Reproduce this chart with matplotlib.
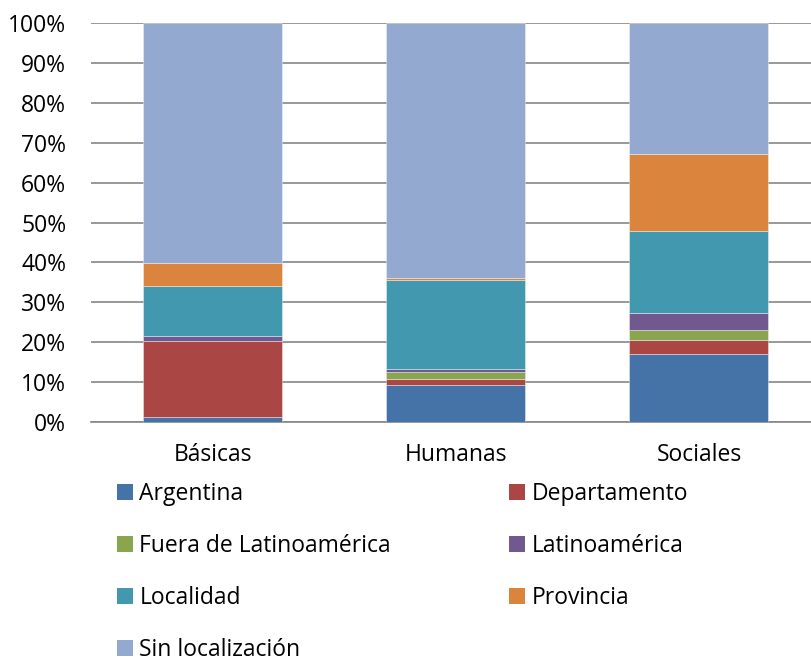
"""Stacked 100% bar chart of localization by area."""

import numpy as np
import matplotlib
matplotlib.use("Agg")
import matplotlib.pyplot as plt
from matplotlib.patches import Patch


CATEGORIES = ["Básicas", "Humanas", "Sociales"]

SERIES = ["Argentina", "Departamento", "Fuera de Latinoamérica", "Latinoamérica",
          "Localidad", "Provincia", "Sin localización"]

ARGENTINA = [1.3, 9.1, 16.9]
DEPARTAMENTO = [19.0, 1.6, 3.7]
FUERA = [0.0, 1.65, 2.3]
LATINOAMERICA = [1.1, 1.0, 4.3]
LOCALIDAD = [12.7, 22.1, 20.7]
PROVINCIA = [5.7, 0.7, 19.2]
SIN_LOC = [60.2, 63.9, 33.0]

COLORS = ["#4572A7", "#AA4643", "#89A54E", "#71588F", "#4198AF", "#DB843D", "#93A9CF"]

FONT_SIZE = 16.5


def main() -> None:
    plt.rcParams["font.family"] = ["Open Sans", "DejaVu Sans"]
    values = [ARGENTINA, DEPARTAMENTO, FUERA, LATINOAMERICA, LOCALIDAD, PROVINCIA, SIN_LOC]

    fig = plt.figure(figsize=(8.12, 6.59), dpi=100)
    ax = fig.add_axes([91.3 / 812, 1 - 421.7 / 659, 1 - 91.3 / 812, (421.7 - 23.3) / 659])

    x = np.arange(len(CATEGORIES))
    bottom = np.zeros(len(CATEGORIES))
    for vals, color in zip(values, COLORS):
        vals = np.array(vals)
        ax.bar(x, vals, bottom=bottom, width=0.572, color=color,
               edgecolor=(1, 1, 1, 0.45), linewidth=0.6, zorder=3)
        bottom += vals

    ax.set_xlim(-0.5, 2 + (812 - 699) / 243)
    ax.set_ylim(0, 100)
    ax.set_yticks(np.arange(0, 101, 10))
    ax.set_yticklabels([f"{v}%" for v in range(0, 101, 10)])
    ax.set_xticks(x)
    ax.set_xticklabels(CATEGORIES)
    ax.tick_params(axis="y", length=0, pad=18, labelsize=FONT_SIZE)
    ax.tick_params(axis="x", length=0, pad=15, labelsize=FONT_SIZE)
    ax.grid(axis="y", color="#868686", linewidth=1.2, zorder=0)
    for side in ["left", "right", "top"]:
        ax.spines[side].set_visible(False)
    ax.spines["bottom"].set_color("#868686")
    ax.spines["bottom"].set_linewidth(1.2)

    handles = [Patch(facecolor=c, edgecolor="none") for c in COLORS]
    left_idx = [0, 2, 4, 6]
    right_idx = [1, 3, 5]
    common = dict(frameon=False, fontsize=FONT_SIZE, handlelength=0.68, handleheight=0.68,
                  handletextpad=0.3, labelspacing=1.22, borderaxespad=0, borderpad=0)
    fig.legend([handles[i] for i in left_idx], [SERIES[i] for i in left_idx],
               loc="upper left", bbox_to_anchor=(117 / 812, 1 - 482 / 659), **common)
    fig.legend([handles[i] for i in right_idx], [SERIES[i] for i in right_idx],
               loc="upper left", bbox_to_anchor=(509 / 812, 1 - 482 / 659), **common)

    fig.savefig("out.png", dpi=100)


if __name__ == "__main__":
    main()
